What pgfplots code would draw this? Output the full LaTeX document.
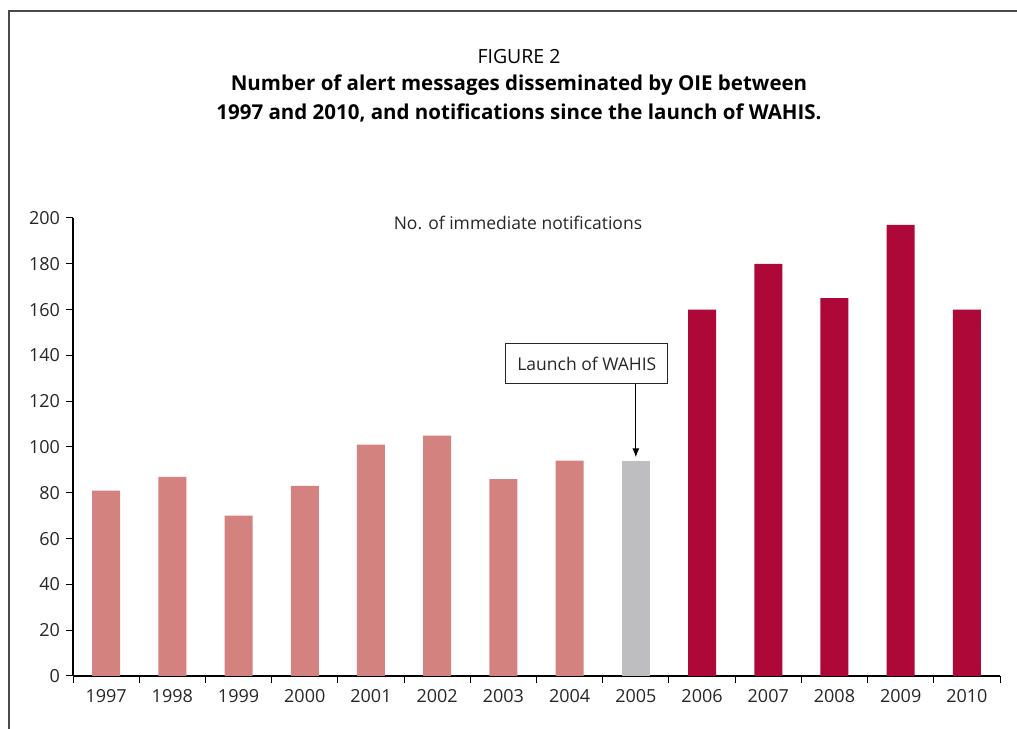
\documentclass[border=0pt]{standalone}
\usepackage{fontspec}
\setmainfont{Open Sans}
\usepackage{pgfplots}
\pgfplotsset{compat=1.18}
\usetikzlibrary{arrows.meta}
\definecolor{oldbar}{HTML}{D48280}
\definecolor{launchbar}{HTML}{BEBEC0}
\definecolor{newbar}{HTML}{AE0838}
\definecolor{framegray}{HTML}{4A4A4A}
\begin{document}
\fontsize{17.5bp}{20bp}\selectfont
\begin{tikzpicture}[x=1bp,y=1bp]
  \path[use as bounding box] (0,0) rectangle (1017,729);
  % frame
  \draw[framegray, line width=1.6bp] (9,0) -- (9,718) -- (1017,718);
  % titles
  \node[font=\fontsize{19.5bp}{22bp}\selectfont] at (519,672) {FIGURE 2};
  \node[font=\fontsize{20.5bp}{22bp}\selectfont\bfseries] at (519,644) {Number of alert messages disseminated by OIE between};
  \node[font=\fontsize{20.5bp}{22bp}\selectfont\bfseries] at (519,616) {1997 and 2010, and notifications since the launch of WAHIS.};
  \begin{axis}[
      at={(73bp,53bp)}, anchor=south west,
      scale only axis,
      width=927bp, height=458bp,
      xmin=-0.5, xmax=13.5,
      ymin=0, ymax=200,
      axis x line*=bottom, axis y line*=left,
      axis line style={line width=1.5bp, black},
      every outer x axis line/.append style={-},
      every outer y axis line/.append style={-},
      ytick={0,20,...,200},
      xtick={0,...,13},
      xticklabels={1997,1998,1999,2000,2001,2002,2003,2004,2005,2006,2007,2008,2009,2010},
      major x tick style={draw=none},
      minor xtick={-0.5,0.5,...,13.5},
      tick align=outside,
      major tick length=7bp, minor tick length=7bp,
      tick style={black, line width=1bp},
      ticklabel style={font=\fontsize{18bp}{20bp}\selectfont, text=black!85},
      /pgf/number format/assume math mode=true,
      ybar, bar width=28bp,
      clip=false,
    ]
    \addplot[fill=oldbar, draw=none, bar shift=0pt] coordinates {
      (0,81) (1,87) (2,70) (3,83) (4,101) (5,105) (6,86) (7,94)
    };
    \addplot[fill=launchbar, draw=none, bar shift=0pt] coordinates {
      (8,94)
    };
    \addplot[fill=newbar, draw=none, bar shift=0pt] coordinates {
      (9,160) (10,180) (11,165) (12,197) (13,160)
    };
    \node[text=black!85] at (axis cs:6.22,198) {No. of immediate notifications};
    \node[draw=black!85, line width=1.2bp, minimum width=162bp, minimum height=40bp, inner sep=0pt, text=black!85]
      (launch) at (axis cs:7.26,136.5) {Launch of WAHIS};
    \draw[-{Latex[length=9bp,width=7bp]}, line width=1bp] (launch.south -| {axis cs:8,0}) -- (axis cs:8,95.5);
  \end{axis}
\end{tikzpicture}
\end{document}
